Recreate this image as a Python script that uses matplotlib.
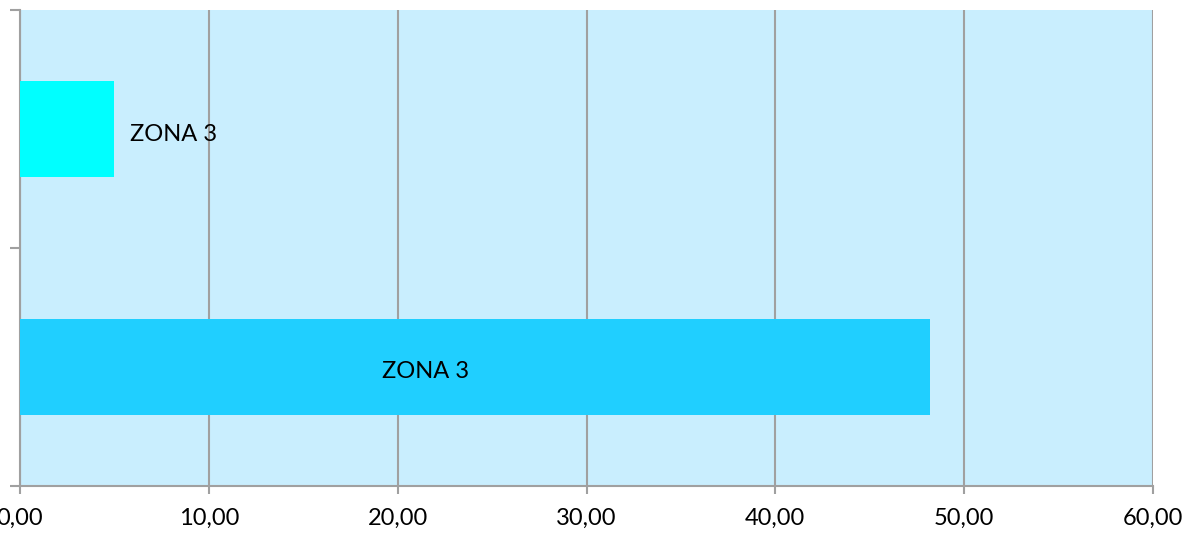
import matplotlib.pyplot as plt
from matplotlib.ticker import FuncFormatter

# data (bottom bar first)
zones = ["ZONA 3", "ZONA 3"]
values = [48.2, 5.0]
colors = ["#20cfff", "#00ffff"]
xticks = [0, 10, 20, 30, 40, 50, 60]

plt.rcParams['font.family'] = ['Lato', 'DejaVu Sans']

fig = plt.figure(figsize=(11.82, 5.34), dpi=100)
ax = fig.add_axes([20 / 1182, 1 - 486 / 534, 1133 / 1182, 476 / 534])
ax.set_facecolor("#c9eefe")

pos = list(range(len(values)))
ax.barh(pos, values, height=0.4, color=colors, zorder=3)

# labels: bottom one inside the bar, top one just outside
ax.annotate(zones[0], (values[0] / 2, pos[0]), xytext=(-36, -3), textcoords="offset points",
            ha="center", va="center", fontsize=17, zorder=4)
ax.annotate(zones[1], (values[1], pos[1]), xytext=(11, -4), textcoords="offset points",
            ha="left", va="center", fontsize=17, zorder=4)

ax.set_xlim(0, 60)
ax.set_ylim(-0.5, 1.5)
ax.set_xticks(xticks)
ax.xaxis.set_major_formatter(FuncFormatter(lambda v, p: ("%.2f" % v).replace(".", ",")))
ax.set_yticks([-0.5, 0.5, 1.5])
ax.set_yticklabels([])

ax.grid(axis="x", color="#a0a0a0", linewidth=1.5, zorder=1)
ax.set_axisbelow(True)
for s in ["top", "right"]:
    ax.spines[s].set_visible(False)
for s in ["left", "bottom"]:
    ax.spines[s].set_color("#a0a0a0")
    ax.spines[s].set_linewidth(1.5)
ax.tick_params(axis="x", colors="#a0a0a0", labelcolor="black", length=6, width=1.5, labelsize=17, pad=10)
ax.tick_params(axis="y", colors="#a0a0a0", length=7, width=1.5)

fig.savefig("out.png", dpi=100)
